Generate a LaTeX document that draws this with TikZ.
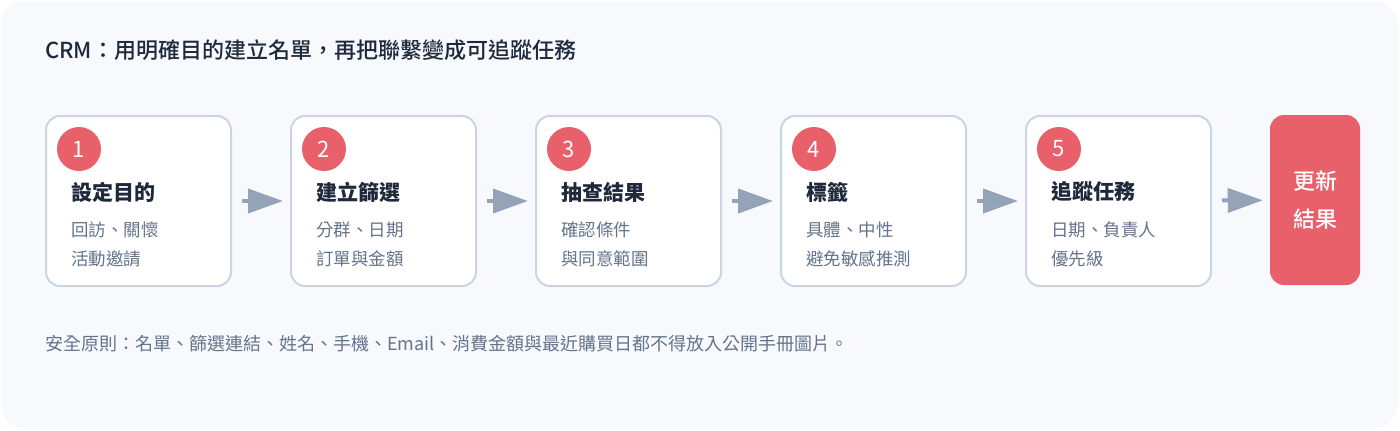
\documentclass[tikz,border=0pt]{standalone}
\usepackage{fontspec}
\setmainfont[Script=CJK, Language=Chinese Traditional]{Noto Sans CJK TC}
\newfontfamily\headfont[Script=CJK, Language=Chinese Traditional]{Noto Sans CJK TC Medium}
\usetikzlibrary{arrows.meta}
\newlength\px
\setlength\px{0.75pt}
\definecolor{bgpanel}{HTML}{F7F9FC}
\definecolor{boxline}{HTML}{CBD5E1}
\definecolor{stepred}{HTML}{E8606A}
\definecolor{arrowgray}{HTML}{94A3B8}
\definecolor{titleink}{HTML}{1E293B}
\definecolor{noteink}{HTML}{64748B}
\begin{document}
\begin{tikzpicture}[x=\px, y=-\px,
    stepbox/.style={draw=boxline, line width=2\px, fill=white, rounded corners=14\px, minimum width=185\px, minimum height=170\px, anchor=north west, inner sep=0pt},
    badge/.style={circle, fill=stepred, text=white, minimum size=44\px, inner sep=0pt, font=\fontsize{16.5}{18}\selectfont},
    steptitle/.style={anchor=west, inner sep=0pt, text=titleink, font=\fontsize{15.75}{19}\selectfont\bfseries},
    stepnote/.style={anchor=west, inner sep=0pt, align=left, text=noteink, font=\fontsize{13.1}{21.75}\selectfont},
    link/.style={draw=arrowgray, line width=3pt, -{Triangle[length=26.25pt, width=18pt]}, shorten <=7.5pt, shorten >=5.25pt}]
    \useasboundingbox [fill=white] (0, 0) rectangle (1400, 430);
    \fill [bgpanel, rounded corners=24\px] (1, 1) rectangle (1398, 428);
    \node [anchor=west, inner sep=0pt, text=titleink, font=\fontsize{16.5}{20}\selectfont\headfont] (head) at (45, 50) {CRM：用明確目的建立名單，再把聯繫變成可追蹤任務};
    \node [stepbox] (s1) at (45, 115) {};
    \node [stepbox] (s2) at (290, 115) {};
    \node [stepbox] (s3) at (535, 115) {};
    \node [stepbox] (s4) at (780, 115) {};
    \node [stepbox] (s5) at (1025, 115) {};
    \node [fill=stepred, rounded corners=14\px, minimum width=90\px, minimum height=170\px, inner sep=0pt, text=white, align=center, font=\fontsize{16.5}{28.5}\selectfont\headfont] (s6) at (1315, 200) {更新\\結果};
    \node [badge] (n1) at (79, 149) {1};
    \node [badge] (n2) at (324, 149) {2};
    \node [badge] (n3) at (569, 149) {3};
    \node [badge] (n4) at (814, 149) {4};
    \node [badge] (n5) at (1059, 149) {5};
    \node [steptitle] (t1) at (71, 192) {設定目的};
    \node [steptitle] (t2) at (316, 192) {建立篩選};
    \node [steptitle] (t3) at (561, 192) {抽查結果};
    \node [steptitle] (t4) at (806, 192) {標籤};
    \node [steptitle] (t5) at (1051, 192) {追蹤任務};
    \node [stepnote] (d1) at (71, 244.5) {回訪、關懷\\活動邀請};
    \node [stepnote] (d2) at (316, 244.5) {分群、日期\\訂單與金額};
    \node [stepnote] (d3) at (561, 244.5) {確認條件\\與同意範圍};
    \node [stepnote] (d4) at (806, 244.5) {具體、中性\\避免敏感推測};
    \node [stepnote] (d5) at (1051, 244.5) {日期、負責人\\優先級};
    \draw [link] (s1) -- (s2);
    \draw [link] (s2) -- (s3);
    \draw [link] (s3) -- (s4);
    \draw [link] (s4) -- (s5);
    \draw [link] (s5) -- (s6);
    \node [anchor=west, inner sep=0pt, text=noteink, font=\fontsize{13.5}{16}\selectfont] (rule) at (45, 344) {安全原則：名單、篩選連結、姓名、手機、Email、消費金額與最近購買日都不得放入公開手冊圖片。};
\end{tikzpicture}
\end{document}
